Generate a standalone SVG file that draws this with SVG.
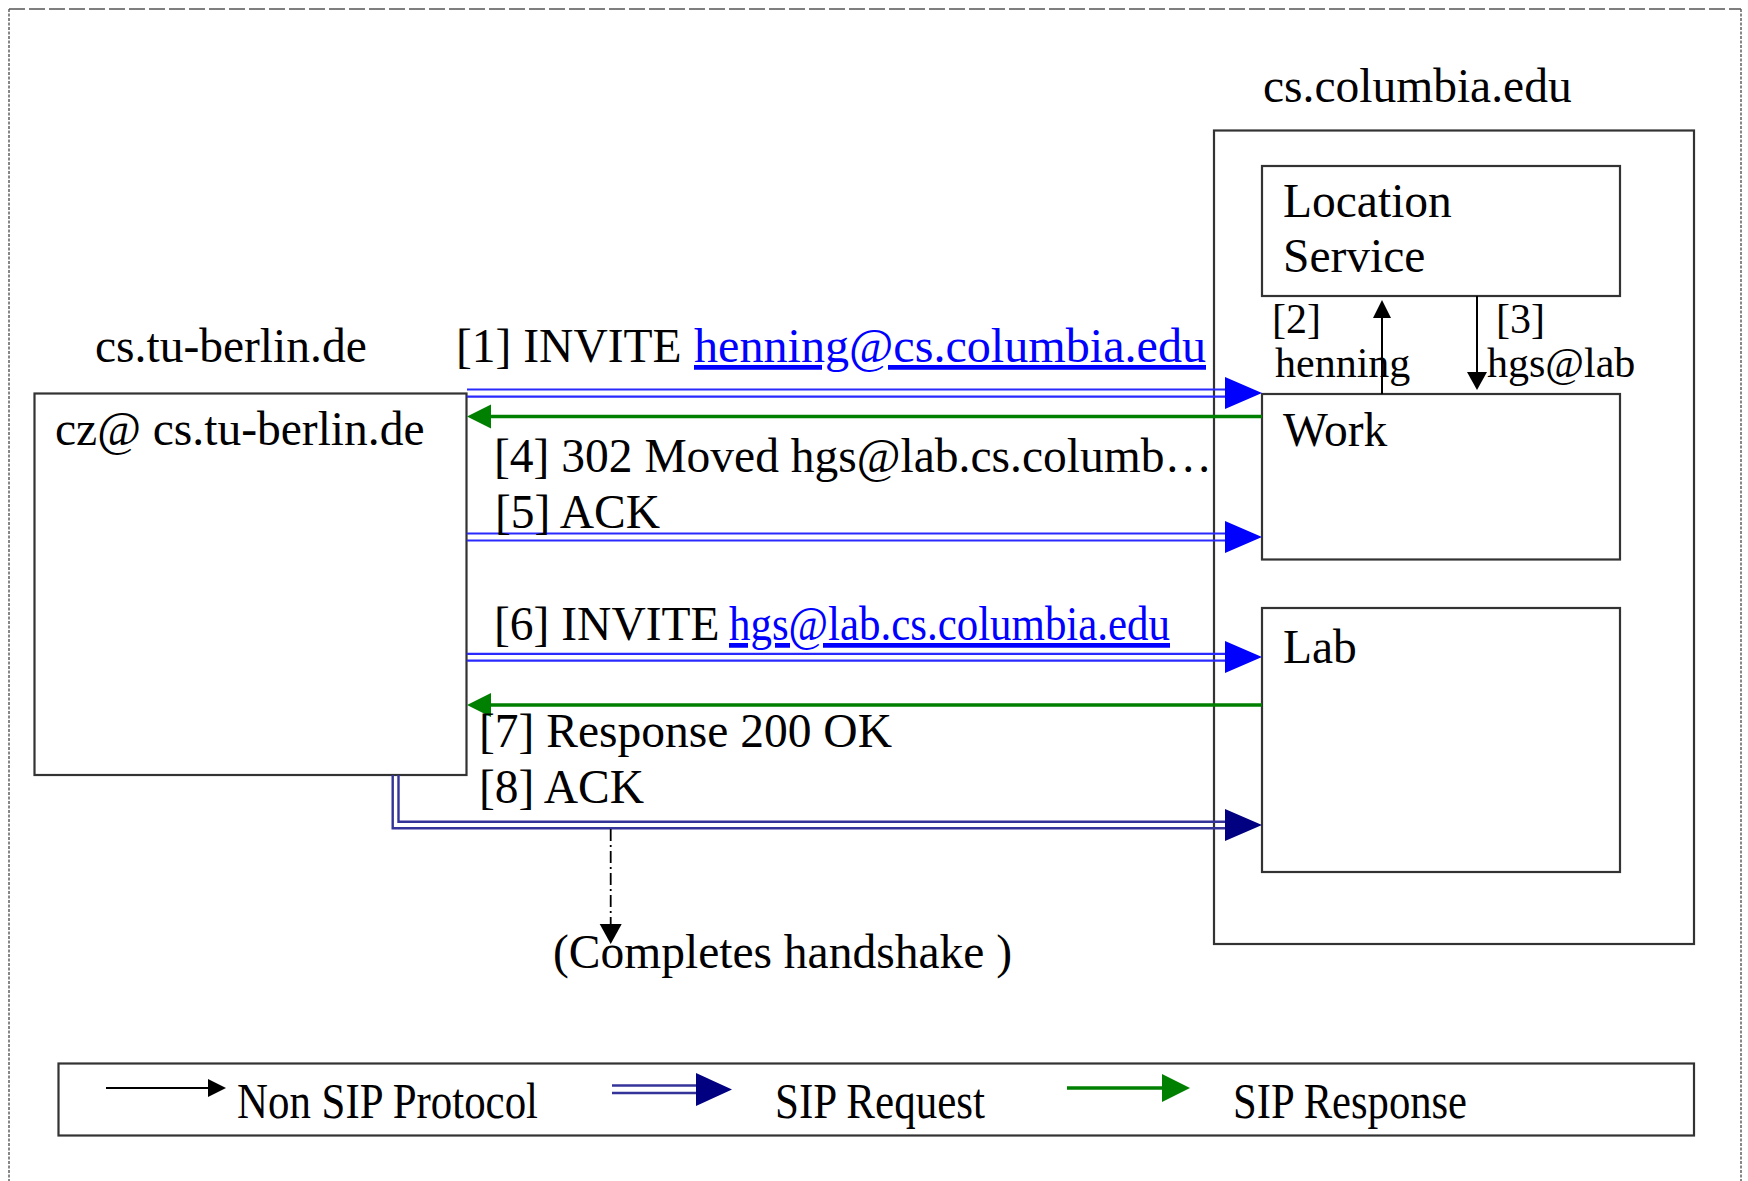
<svg xmlns="http://www.w3.org/2000/svg" xmlns:xlink="http://www.w3.org/1999/xlink" width="1748" height="1181" viewBox="0 0 1748 1181">
<style>
.bg{fill:#fff}
.frame{fill:none;stroke:#555;stroke-width:1.4}
.box{fill:none;stroke:#333;stroke-width:2.2}
.t{font-family:"Liberation Serif","Times New Roman",serif;font-size:47.5px;fill:#000}
.s{font-size:42px}
.lg{font-size:50px}
.link{fill:#0000ff;text-decoration:underline}
.req{fill:none;stroke:#2a2aff;stroke-width:2.2}
.reqn{fill:none;stroke:#333399;stroke-width:2.4}
.resp{fill:none;stroke:#008000;stroke-width:3.4}
.np{fill:none;stroke:#000;stroke-width:2}
.dash{fill:none;stroke:#000;stroke-width:1.8;stroke-dasharray:12 4 2 4}
</style>
<defs>
<polygon id="hBlue" points="0,0 -37,-16 -37,16" fill="#0000ff"/>
<polygon id="hNavy" points="0,0 -37,-16 -37,16" fill="#000080"/>
<polygon id="hGreenL" points="0,0 24,-12 24,12" fill="#008000"/>
<polygon id="hGreenR" points="0,0 -28,-14 -28,14" fill="#008000"/>
<polygon id="hUp" points="0,0 -9,18 9,18" fill="#000"/>
<polygon id="hDown" points="0,0 -10,-18 10,-18" fill="#000"/>
<polygon id="hRight" points="0,0 -18,-9 -18,9" fill="#000"/>
<polygon id="hDownL" points="0,0 -11,-20 11,-20" fill="#000"/>
</defs>
<rect class="bg" x="0" y="0" width="1748" height="1181"/>
<g id="frame">
<line class="frame" x1="9" y1="9" x2="1741" y2="9" stroke-dasharray="16 4"/>
<line class="frame" x1="9" y1="9" x2="9" y2="1181" stroke-dasharray="3 1.5"/>
<line class="frame" x1="1741" y1="9" x2="1741" y2="1181" stroke-dasharray="3 1.5"/>
</g>
<g id="berlin">
<text class="t" x="95" y="362">cs.tu-berlin.de</text>
<rect class="box" x="34.5" y="393.5" width="432" height="381.5"/>
<text class="t" x="55" y="445">cz@ cs.tu-berlin.de</text>
</g>
<g id="columbia">
<text class="t" x="1263" y="102">cs.columbia.edu</text>
<rect class="box" x="1214" y="130.5" width="480" height="813.5"/>
</g>
<g id="location">
<rect class="box" x="1262" y="166" width="358" height="130"/>
<text class="t" x="1283" y="217">Location</text>
<text class="t" x="1283" y="272">Service</text>
</g>
<g id="work">
<rect class="box" x="1262" y="394" width="358" height="165.5"/>
<text class="t" x="1283" y="446">Work</text>
</g>
<g id="lab">
<rect class="box" x="1262" y="608" width="358" height="264"/>
<text class="t" x="1283" y="663">Lab</text>
</g>
<g id="connectors">
<!-- [1] INVITE -->
<line class="req" x1="467" y1="389.5" x2="1227" y2="389.5"/>
<line class="req" x1="467" y1="396.7" x2="1227" y2="396.7"/>
<use xlink:href="#hBlue" transform="translate(1262,393)"/>
<!-- [2] / [3] -->
<line class="np" x1="1382" y1="394" x2="1382" y2="316"/>
<use xlink:href="#hUp" transform="translate(1382,300)"/>
<line class="np" x1="1477" y1="296" x2="1477" y2="374"/>
<use xlink:href="#hDown" transform="translate(1477,390)"/>
<!-- [4] 302 -->
<line class="resp" x1="1262" y1="416.5" x2="489" y2="416.5"/>
<use xlink:href="#hGreenL" transform="translate(467,416.5)"/>
<!-- [5] ACK -->
<line class="req" x1="467" y1="533.5" x2="1227" y2="533.5"/>
<line class="req" x1="467" y1="540.5" x2="1227" y2="540.5"/>
<use xlink:href="#hBlue" transform="translate(1262,537)"/>
<!-- [6] INVITE -->
<line class="req" x1="467" y1="653.8" x2="1227" y2="653.8"/>
<line class="req" x1="467" y1="660.6" x2="1227" y2="660.6"/>
<use xlink:href="#hBlue" transform="translate(1262,657)"/>
<!-- [7] 200 OK -->
<line class="resp" x1="1262" y1="705" x2="489" y2="705"/>
<use xlink:href="#hGreenL" transform="translate(467,705)"/>
<!-- [8] ACK -->
<polyline class="reqn" points="392.7,775 392.7,828.3 1227,828.3"/>
<polyline class="reqn" points="398.5,775 398.5,821.7 1227,821.7"/>
<use xlink:href="#hNavy" transform="translate(1262,825)"/>
<!-- completes handshake -->
<line class="dash" x1="610.7" y1="829" x2="610.7" y2="926"/>
<use xlink:href="#hDownL" transform="translate(610.7,944)"/>
</g>
<g id="labels">
<text class="t" x="456" y="362">[1] INVITE</text>
<text class="t link" x="694" y="362" textLength="512" lengthAdjust="spacingAndGlyphs">henning@cs.columbia.edu</text>
<text class="t s" x="1272" y="333">[2]</text>
<text class="t s" x="1275" y="377">henning</text>
<text class="t s" x="1496" y="333">[3]</text>
<text class="t s" x="1487" y="377">hgs@lab</text>
<text class="t" x="494" y="472">[4] 302 Moved hgs@lab.cs.columb…</text>
<text class="t" x="495" y="528">[5] ACK</text>
<text class="t" x="494" y="640">[6] INVITE</text>
<text class="t link" x="729" y="640" textLength="441" lengthAdjust="spacingAndGlyphs">hgs@lab.cs.columbia.edu</text>
<text class="t" x="479" y="747">[7] Response 200 OK</text>
<text class="t" x="479" y="803">[8] ACK</text>
<text class="t" x="553" y="968">(Completes handshake )</text>
</g>
<g id="legend">
<rect class="box" x="58.5" y="1063.5" width="1635.5" height="72" stroke-width="2.6"/>
<line class="np" x1="106" y1="1088" x2="210" y2="1088"/>
<use xlink:href="#hRight" transform="translate(226,1088)"/>
<text class="t lg" x="237" y="1118" textLength="301" lengthAdjust="spacingAndGlyphs">Non SIP Protocol</text>
<line class="reqn" x1="612" y1="1085.5" x2="697" y2="1085.5"/>
<line class="reqn" x1="612" y1="1093" x2="697" y2="1093"/>
<polygon points="732,1089.5 696,1073 696,1106" fill="#000080"/>
<text class="t lg" x="775" y="1118" textLength="210" lengthAdjust="spacingAndGlyphs">SIP Request</text>
<line class="resp" x1="1067" y1="1088" x2="1163" y2="1088"/>
<use xlink:href="#hGreenR" transform="translate(1190,1088)"/>
<text class="t lg" x="1233" y="1118" textLength="234" lengthAdjust="spacingAndGlyphs">SIP Response</text>
</g>
</svg>
